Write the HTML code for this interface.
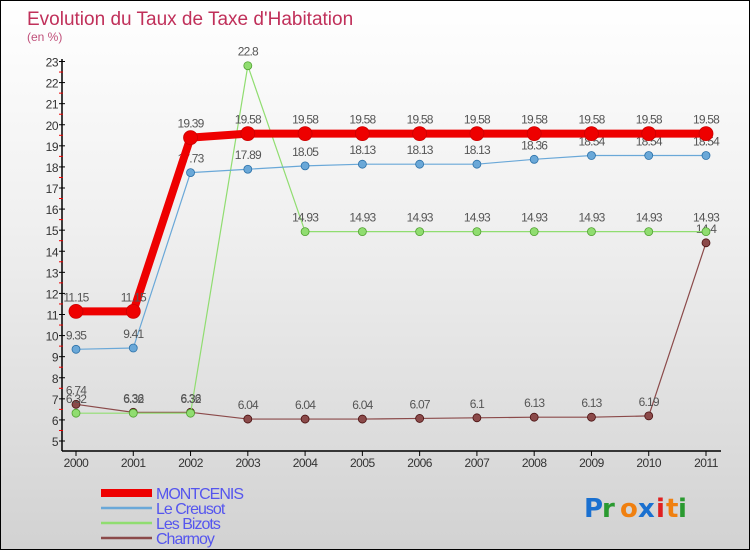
<!DOCTYPE html>
<html><head><meta charset="utf-8"><style>
html,body{margin:0;padding:0;}
body{width:750px;height:550px;overflow:hidden;font-family:"Liberation Sans",sans-serif;}
#wrap{position:relative;width:748px;height:548px;border:1px solid #000;background:linear-gradient(#ffffff 0%,#f0f0f0 40%,#d2d2d2 100%);}
svg{position:absolute;left:0;top:0;}
</style></head><body>
<div id="wrap">
<svg id="chart" width="750" height="550"></svg>
</div>
<script>
const years=["2000","2001","2002","2003","2004","2005","2006","2007","2008","2009","2010","2011"];
const montcenis=[11.15,11.15,19.39,19.58,19.58,19.58,19.58,19.58,19.58,19.58,19.58,19.58];
const creusot=[9.35,9.41,17.73,17.89,18.05,18.13,18.13,18.13,18.36,18.54,18.54,18.54];
const bizots=[6.32,6.32,6.32,22.8,14.93,14.93,14.93,14.93,14.93,14.93,14.93,14.93];
const charmoy=[6.74,6.36,6.36,6.04,6.04,6.04,6.07,6.1,6.13,6.13,6.19,14.4];
const yTicks=[5,6,7,8,9,10,11,12,13,14,15,16,17,18,19,20,21,22,23];
const seriesNames=["MONTCENIS","Le Creusot","Les Bizots","Charmoy"];

const NS="http://www.w3.org/2000/svg";
const svg=document.getElementById('chart');
const X=i=>75+i*(630/11);
const Y=v=>440-(v-5)*(379.5/18);
function mk(tag,attrs,parent){const e=document.createElementNS(NS,tag);for(const k in attrs)e.setAttribute(k,attrs[k]);(parent||svg).appendChild(e);return e;}
function txt(x,y,s,attrs,parent){const t=mk('text',Object.assign({x:x,y:y},attrs),parent);t.textContent=s;return t;}

let t=txt(26,24,"Evolution du Taux de Taxe d'Habitation",{'font-size':19,fill:'#c0305a'});


t=txt(26,40,"(en %)",{'font-size':12,fill:'#c0507a'});



let a=mk('line',{x1:61,y1:58,x2:61,y2:450,stroke:'#000','stroke-width':1.5});


a=mk('line',{x1:61,y1:450,x2:720,y2:450,stroke:'#000','stroke-width':1.5});


yTicks.forEach(v=>{
  mk('line',{x1:58,y1:Y(v),x2:64,y2:Y(v),stroke:'#000'});
  if(v<23) mk('line',{x1:58,y1:Y(v+0.5),x2:62,y2:Y(v+0.5),stroke:'#e00'});
  const l=txt(57,Y(v)+5,String(v),{'font-size':12,fill:'#333','text-anchor':'end','letter-spacing':'-0.5'});
  
  
});
years.forEach((y,i)=>{
  mk('line',{x1:X(i),y1:450,x2:X(i),y2:455,stroke:'#000'});
  const l=txt(X(i),466,y,{'font-size':12,fill:'#333','text-anchor':'middle','letter-spacing':'-0.5'});
  
  
});

function series(data,color,width,r,name,dark){
  const g=mk('g',{});
  
  
  mk('polyline',{points:data.map((v,i)=>X(i)+','+Y(v)).join(' '),fill:'none',stroke:color,'stroke-width':width,'stroke-linejoin':'round'},g);
  data.forEach((v,i)=>{
    const c=mk('circle',{cx:X(i),cy:Y(v),r:r,fill:color,stroke:dark,'stroke-width':0.8},g);
    
    
    const l=txt(X(i),Y(v)-10,String(v),{'font-size':12,fill:'#555','text-anchor':'middle','letter-spacing':'-0.8'},g);
    
    
  });
}
series(charmoy,'#8b4a4a',1.2,4,'charmoy','#4a1010');
series(bizots,'#90dd70',1.2,4,'bizots','#50a030');
series(creusot,'#6aa8d8',1.2,4,'creusot','#2a70a8');
series(montcenis,'#ee0000',8,7,'montcenis','#cc0000');

const legColors=['#ee0000','#6aa8d8','#90dd70','#8b4a4a'];
const legW=[8,2.5,2.5,2.5];
seriesNames.forEach((n,i)=>{
  const y=492+i*15;
  const g=mk('g',{});
  
  
  mk('line',{x1:100,y1:y,x2:151,y2:y,stroke:legColors[i],'stroke-width':legW[i]},g);
  txt(155,y+6,n,{'font-size':16,fill:'#5555ee','letter-spacing':'-1'},g);
});

const lg=mk('g',{});


const letters=[['P','#1a70d0'],['r','#2a9a30'],['o','#f08010'],['x','#1a70d0'],['i','#e02020'],['t','#f08010'],['i','#2a9a30']];
let lx=583;
letters.forEach(([c,col])=>{txt(lx,516,c,{'font-size':26,'font-weight':'bold',fill:col,'font-family':'"DejaVu Sans",sans-serif'},lg);lx+=(c==='i'?10:(c==='t'?12:18));});
</script>
</body></html>
